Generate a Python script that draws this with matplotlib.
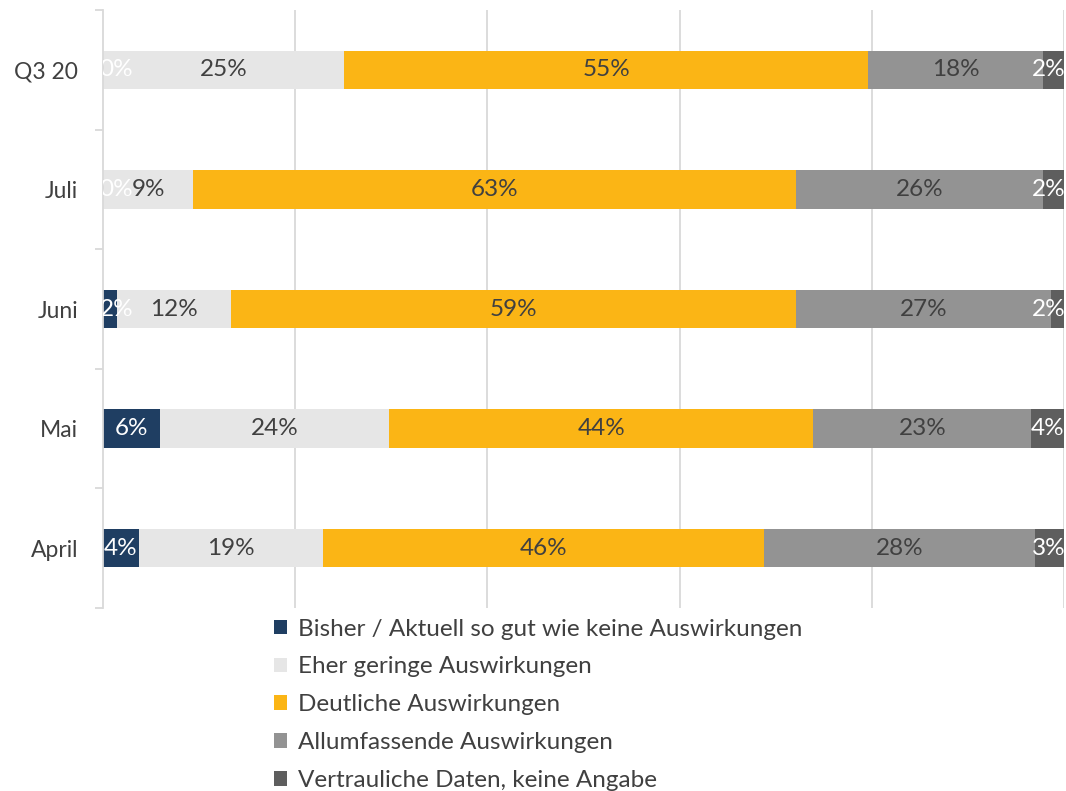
import matplotlib.pyplot as plt
import numpy as np

plt.rcParams['font.family'] = ['Lato', 'DejaVu Sans']

# Categories from bottom to top
categories = ["April", "Mai", "Juni", "Juli", "Q3 20"]

series_names = [
    "Bisher / Aktuell so gut wie keine Auswirkungen",
    "Eher geringe Auswirkungen",
    "Deutliche Auswirkungen",
    "Allumfassende Auswirkungen",
    "Vertrauliche Daten, keine Angabe",
]

# Shares in percent
bisher = [3.7, 5.9, 1.5, 0.0, 0.0]
eher = [19.2, 23.9, 11.8, 9.4, 25.1]
deutlich = [45.9, 44.1, 58.8, 62.7, 54.5]
allumfassend = [28.2, 22.7, 26.5, 25.7, 18.2]
vertraulich = [3.0, 3.4, 1.5, 2.2, 2.2]

# Labels as printed on the chart
bisher_lbl = ["4%", "6%", "2%", "0%", "0%"]
eher_lbl = ["19%", "24%", "12%", "9%", "25%"]
deutlich_lbl = ["46%", "44%", "59%", "63%", "55%"]
allumfassend_lbl = ["28%", "23%", "27%", "26%", "18%"]
vertraulich_lbl = ["3%", "4%", "2%", "2%", "2%"]

colors = ["#1F3E62", "#E6E6E6", "#FBB515", "#939393", "#5E5E5E"]
label_colors = ["white", "#404040", "#404040", "#404040", "white"]

fig = plt.figure(figsize=(10.66, 7.91), dpi=100)
ax = fig.add_axes([103 / 1066, 1 - 608 / 791, (1064 - 103) / 1066, 598 / 791])

y = np.arange(len(categories))
left = np.zeros(len(categories))
all_vals = [bisher, eher, deutlich, allumfassend, vertraulich]
all_lbls = [bisher_lbl, eher_lbl, deutlich_lbl, allumfassend_lbl, vertraulich_lbl]

for i, (vals, lbls) in enumerate(zip(all_vals, all_lbls)):
    vals = np.array(vals)
    ax.barh(y, vals, left=left, height=0.32, color=colors[i], label=series_names[i], zorder=2)
    for k in range(len(categories)):
        cx = left[k] + vals[k] / 2
        if i == 0:
            cx = max(cx, 1.4)
        if i == 4:
            cx = min(cx, 98.4)
        ax.text(cx, y[k], lbls[k], ha='center', va='center', fontsize=17.5,
                color=label_colors[i], zorder=3, clip_on=True)
    left = left + vals

ax.set_xlim(0, 100)
ax.set_ylim(-0.5, len(categories) - 0.5)
ax.set_xticks([20, 40, 60, 80, 100])
ax.tick_params(axis='x', length=0, labelbottom=False)
ax.grid(axis='x', color='#D9D9D9', linewidth=1.3, zorder=0)

ax.set_yticks(y)
ax.set_yticklabels(categories, fontsize=16.5, color='#404040')
ax.tick_params(axis='y', length=0, pad=18)
ax.set_yticks(np.arange(-0.5, len(categories)), minor=True)
ax.tick_params(axis='y', which='minor', length=6, color='#D9D9D9', width=1.3)

for s in ['top', 'right', 'bottom']:
    ax.spines[s].set_visible(False)
ax.spines['left'].set_color('#D9D9D9')
ax.spines['left'].set_linewidth(1.3)

fig.legend(loc='upper left', bbox_to_anchor=(264 / 1066, 1 - 609 / 791), frameon=False,
           fontsize=17.5, handlelength=0.55, handleheight=0.55, handletextpad=0.45,
           labelspacing=0.69, labelcolor='#404040', borderaxespad=0)

fig.savefig("out.png", dpi=100)
